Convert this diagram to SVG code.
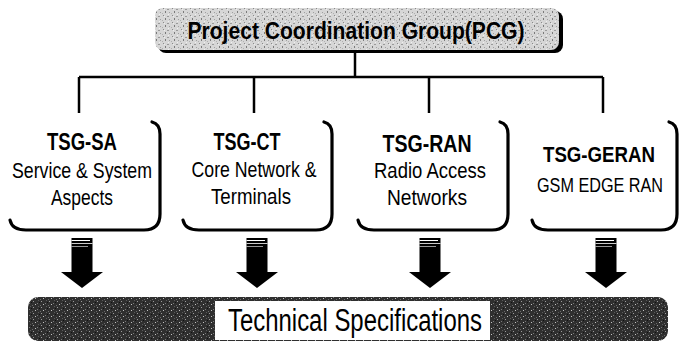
<svg xmlns="http://www.w3.org/2000/svg" width="682" height="343" viewBox="0 0 682 343">
  <defs>
    <pattern id="lightNoise" x="0" y="0" width="9" height="7" patternUnits="userSpaceOnUse">
      <rect width="9" height="7" fill="#d6d6d6"/>
      <rect x="1" y="1" width="1" height="1" fill="#8a8a8a"/>
      <rect x="5" y="2" width="2" height="1" fill="#9a9a9a"/>
      <rect x="3" y="4" width="1" height="2" fill="#7a7a7a"/>
      <rect x="7" y="5" width="1" height="1" fill="#a0a0a0"/>
      <rect x="0" y="6" width="1" height="1" fill="#b0b0b0"/>
      <rect x="6" y="0" width="1" height="1" fill="#f0f0f0"/>
      <rect x="2" y="2" width="1" height="1" fill="#eeeeee"/>
    </pattern>
    <pattern id="darkNoise" x="0" y="0" width="8" height="6" patternUnits="userSpaceOnUse">
      <rect width="8" height="6" fill="#2f2f2f"/>
      <rect x="1" y="1" width="1" height="1" fill="#9a9a9a"/>
      <rect x="5" y="3" width="1" height="1" fill="#7a7a7a"/>
      <rect x="3" y="4" width="1" height="1" fill="#c0c0c0"/>
      <rect x="6" y="0" width="1" height="1" fill="#5a5a5a"/>
      <rect x="0" y="5" width="1" height="1" fill="#6a6a6a"/>
      <rect x="7" y="2" width="1" height="1" fill="#111"/>
    </pattern>
    <g id="arrow">
      <rect x="-10.5" y="238" width="21" height="35" fill="#000"/>
      <line x1="-10.5" y1="240.5" x2="8" y2="240.5" stroke="#fff" stroke-width="1"/>
      <line x1="-10.5" y1="243.5" x2="10.5" y2="243.5" stroke="#fff" stroke-width="0.8"/>
      <line x1="-10.5" y1="246.5" x2="6" y2="246.5" stroke="#fff" stroke-width="0.6"/>
      <polygon points="-21,272 21,272 0,288" fill="#000"/>
    </g>
  </defs>
  <style>
    .t { font-family: "Liberation Sans", Arial, sans-serif; fill: #000; }
    .title { font-weight: bold; font-size: 24px; }
    .sub { font-size: 21.5px; }
    .box { fill: none; stroke: #000; stroke-width: 3.2; stroke-linecap: round; stroke-linejoin: round; }
    .conn { stroke: #000; stroke-width: 2.5; fill: none; }
  </style>

  <g id="pcg">
    <rect x="158" y="11" width="405" height="42" rx="8" fill="#000"/>
    <rect x="155" y="8" width="404" height="42" rx="8" fill="url(#lightNoise)"/>
    <text class="t" x="356" y="38.5" font-size="24" font-weight="bold" text-anchor="middle" textLength="337" lengthAdjust="spacingAndGlyphs">Project Coordination Group(PCG)</text>
  </g>

  <g id="connectors">
    <line class="conn" x1="355" y1="52" x2="355" y2="77"/>
    <line class="conn" x1="79" y1="77" x2="603" y2="77"/>
    <line class="conn" x1="79" y1="77" x2="79" y2="113"/>
    <line class="conn" x1="254" y1="77" x2="254" y2="113"/>
    <line class="conn" x1="429" y1="77" x2="429" y2="113"/>
    <line class="conn" x1="603" y1="77" x2="603" y2="113"/>
  </g>

  <g id="tsg-sa">
    <path class="box" d="M152,122 Q160,124 160,134 L160,214 Q160,230 144,230 L26,230 Q12,230 10,220"/>
    <text class="t title" x="82" y="150" text-anchor="middle" textLength="70" lengthAdjust="spacingAndGlyphs">TSG-SA</text>
    <text class="t sub" x="82" y="178" text-anchor="middle" textLength="140" lengthAdjust="spacingAndGlyphs">Service &amp; System</text>
    <text class="t sub" x="82" y="205" text-anchor="middle" textLength="62" lengthAdjust="spacingAndGlyphs">Aspects</text>
  </g>

  <g id="tsg-ct">
    <path class="box" d="M324,122 Q332,124 332,134 L332,214 Q332,230 316,230 L199,230 Q185,230 183,220"/>
    <text class="t title" x="247" y="150" text-anchor="middle" textLength="67" lengthAdjust="spacingAndGlyphs">TSG-CT</text>
    <text class="t sub" x="254" y="177" text-anchor="middle" textLength="125" lengthAdjust="spacingAndGlyphs">Core Network &amp;</text>
    <text class="t sub" x="251" y="204" text-anchor="middle" textLength="80" lengthAdjust="spacingAndGlyphs">Terminals</text>
  </g>

  <g id="tsg-ran">
    <path class="box" d="M500,122 Q508,124 508,134 L508,214 Q508,230 492,230 L374,230 Q360,230 358,220"/>
    <text class="t title" x="427" y="152" text-anchor="middle" textLength="89" lengthAdjust="spacingAndGlyphs">TSG-RAN</text>
    <text class="t sub" x="430" y="178" text-anchor="middle" textLength="112" lengthAdjust="spacingAndGlyphs">Radio Access</text>
    <text class="t sub" x="427" y="205" text-anchor="middle" textLength="80" lengthAdjust="spacingAndGlyphs">Networks</text>
  </g>

  <g id="tsg-geran">
    <path class="box" d="M669,122 Q677,124 677,134 L677,214 Q677,230 661,230 L548,230 Q534,230 532,220"/>
    <text class="t" x="599" y="162" font-size="22" font-weight="bold" text-anchor="middle" textLength="112" lengthAdjust="spacingAndGlyphs">TSG-GERAN</text>
    <text class="t" x="600" y="192" font-size="19.5" text-anchor="middle" textLength="126" lengthAdjust="spacingAndGlyphs">GSM EDGE RAN</text>
  </g>

  <g id="arrows">
    <use href="#arrow" transform="translate(82,0)"/>
    <use href="#arrow" transform="translate(257,0)"/>
    <use href="#arrow" transform="translate(430,0)"/>
    <use href="#arrow" transform="translate(606,0)"/>
  </g>

  <g id="tech-specs">
    <rect x="28" y="297" width="640" height="44" rx="10" fill="url(#darkNoise)"/>
    <rect x="215" y="301" width="275" height="39" fill="#fff"/>
    <text class="t" x="355" y="331" font-size="31" text-anchor="middle" textLength="254" lengthAdjust="spacingAndGlyphs">Technical Specifications</text>
  </g>
</svg>
